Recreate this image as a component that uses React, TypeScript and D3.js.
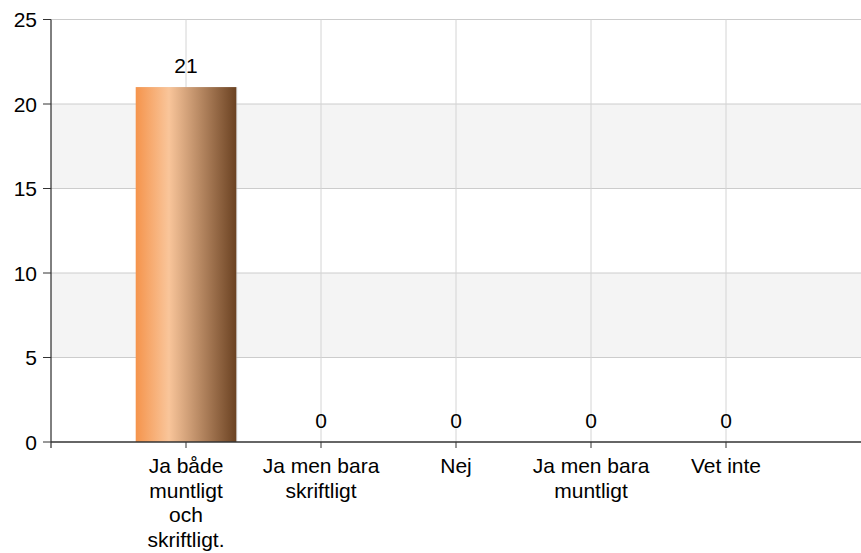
import React from "react";
import * as d3 from "d3";

const categories: string[][] = [
  ["Ja både", "muntligt", "och", "skriftligt."],
  ["Ja men bara", "skriftligt"],
  ["Nej"],
  ["Ja men bara", "muntligt"],
  ["Vet inte"],
];
const values: number[] = [21, 0, 0, 0, 0];
const yTicks: number[] = [0, 5, 10, 15, 20, 25];

const W = 861;
const H = 553;
const left = 51;
const right = 861;
const top = 19.5;
const bottom = 442;
const FONT = "'Liberation Sans', Arial, sans-serif";
const FS = 21;

export default function App() {
  const y = d3.scaleLinear().domain([0, 25]).range([bottom, top]);
  const x = d3.scaleLinear().domain([0, 6]).range([left, right]);
  const step = x(1) - x(0);
  const barW = step * 0.745;

  const bands = d3.range(0, 25, 5).filter((v) => v === 5 || v === 15);

  return (
    <svg
      width={W}
      height={H}
      style={{ position: "absolute", left: 0, top: 0, background: "#fff" }}
    >
      <defs>
        <linearGradient id="barGrad" x1="0" x2="1" y1="0" y2="0">
          <stop offset="0%" stopColor="#f5944c" />
          <stop offset="33%" stopColor="#f9c59a" />
          <stop offset="100%" stopColor="#6b4222" />
        </linearGradient>
      </defs>
      {bands.map((v) => (
        <rect
          key={v}
          x={left}
          y={y(v + 5)}
          width={right - left}
          height={y(v) - y(v + 5)}
          fill="#f4f4f4"
        />
      ))}
      {yTicks.filter((v) => v > 0).map((v) => (
        <line
          key={v}
          x1={left}
          x2={right}
          y1={y(v)}
          y2={y(v)}
          stroke="#cccccc"
          strokeWidth={1}
        />
      ))}
      {values.map((_, i) => (
        <line
          key={i}
          x1={x(i + 1)}
          x2={x(i + 1)}
          y1={top}
          y2={bottom}
          stroke="#d4d4d4"
          strokeWidth={1}
        />
      ))}
      {values.map((v, i) => (
        <g key={i}>
          {v > 0 && (
            <>
              <rect
                x={x(i + 1) - barW / 2 + 1}
                y={y(v)}
                width={barW}
                height={y(0) - y(v)}
                fill="#bbbbbb"
                opacity={0.5}
              />
              <rect
                x={x(i + 1) - barW / 2}
                y={y(v)}
                width={barW}
                height={y(0) - y(v)}
                fill="url(#barGrad)"
              />
            </>
          )}
          <text
            x={x(i + 1)}
            y={y(v) - 14.5}
            textAnchor="middle"
            fontFamily={FONT}
            fontSize={FS}
            fill="#000"
          >
            {v}
          </text>
        </g>
      ))}
      {/* axes */}
      <line x1={left} x2={left} y1={top} y2={bottom + 6} stroke="#000" strokeWidth={1} />
      <line x1={left} x2={right} y1={bottom} y2={bottom} stroke="#333" strokeWidth={1.5} />
      {yTicks.map((v) => (
        <g key={v}>
          <line x1={left - 8} x2={left} y1={y(v)} y2={y(v)} stroke="#333" strokeWidth={1} />
          <text
            x={left - 14}
            y={y(v) + 7.5}
            textAnchor="end"
            fontFamily={FONT}
            fontSize={FS}
            fill="#000"
          >
            {v}
          </text>
        </g>
      ))}
      {categories.map((lines, i) => (
        <g key={i}>
          <line
            x1={x(i + 1)}
            x2={x(i + 1)}
            y1={bottom}
            y2={bottom + 6}
            stroke="#333"
            strokeWidth={1}
          />
          <text
            x={x(i + 1)}
            textAnchor="middle"
            fontFamily={FONT}
            fontSize={FS}
            fill="#000"
          >
            {lines.map((l, j) => (
              <tspan key={j} x={x(i + 1)} y={473 + j * 24.6}>
                {l}
              </tspan>
            ))}
          </text>
        </g>
      ))}
    </svg>
  );
}
